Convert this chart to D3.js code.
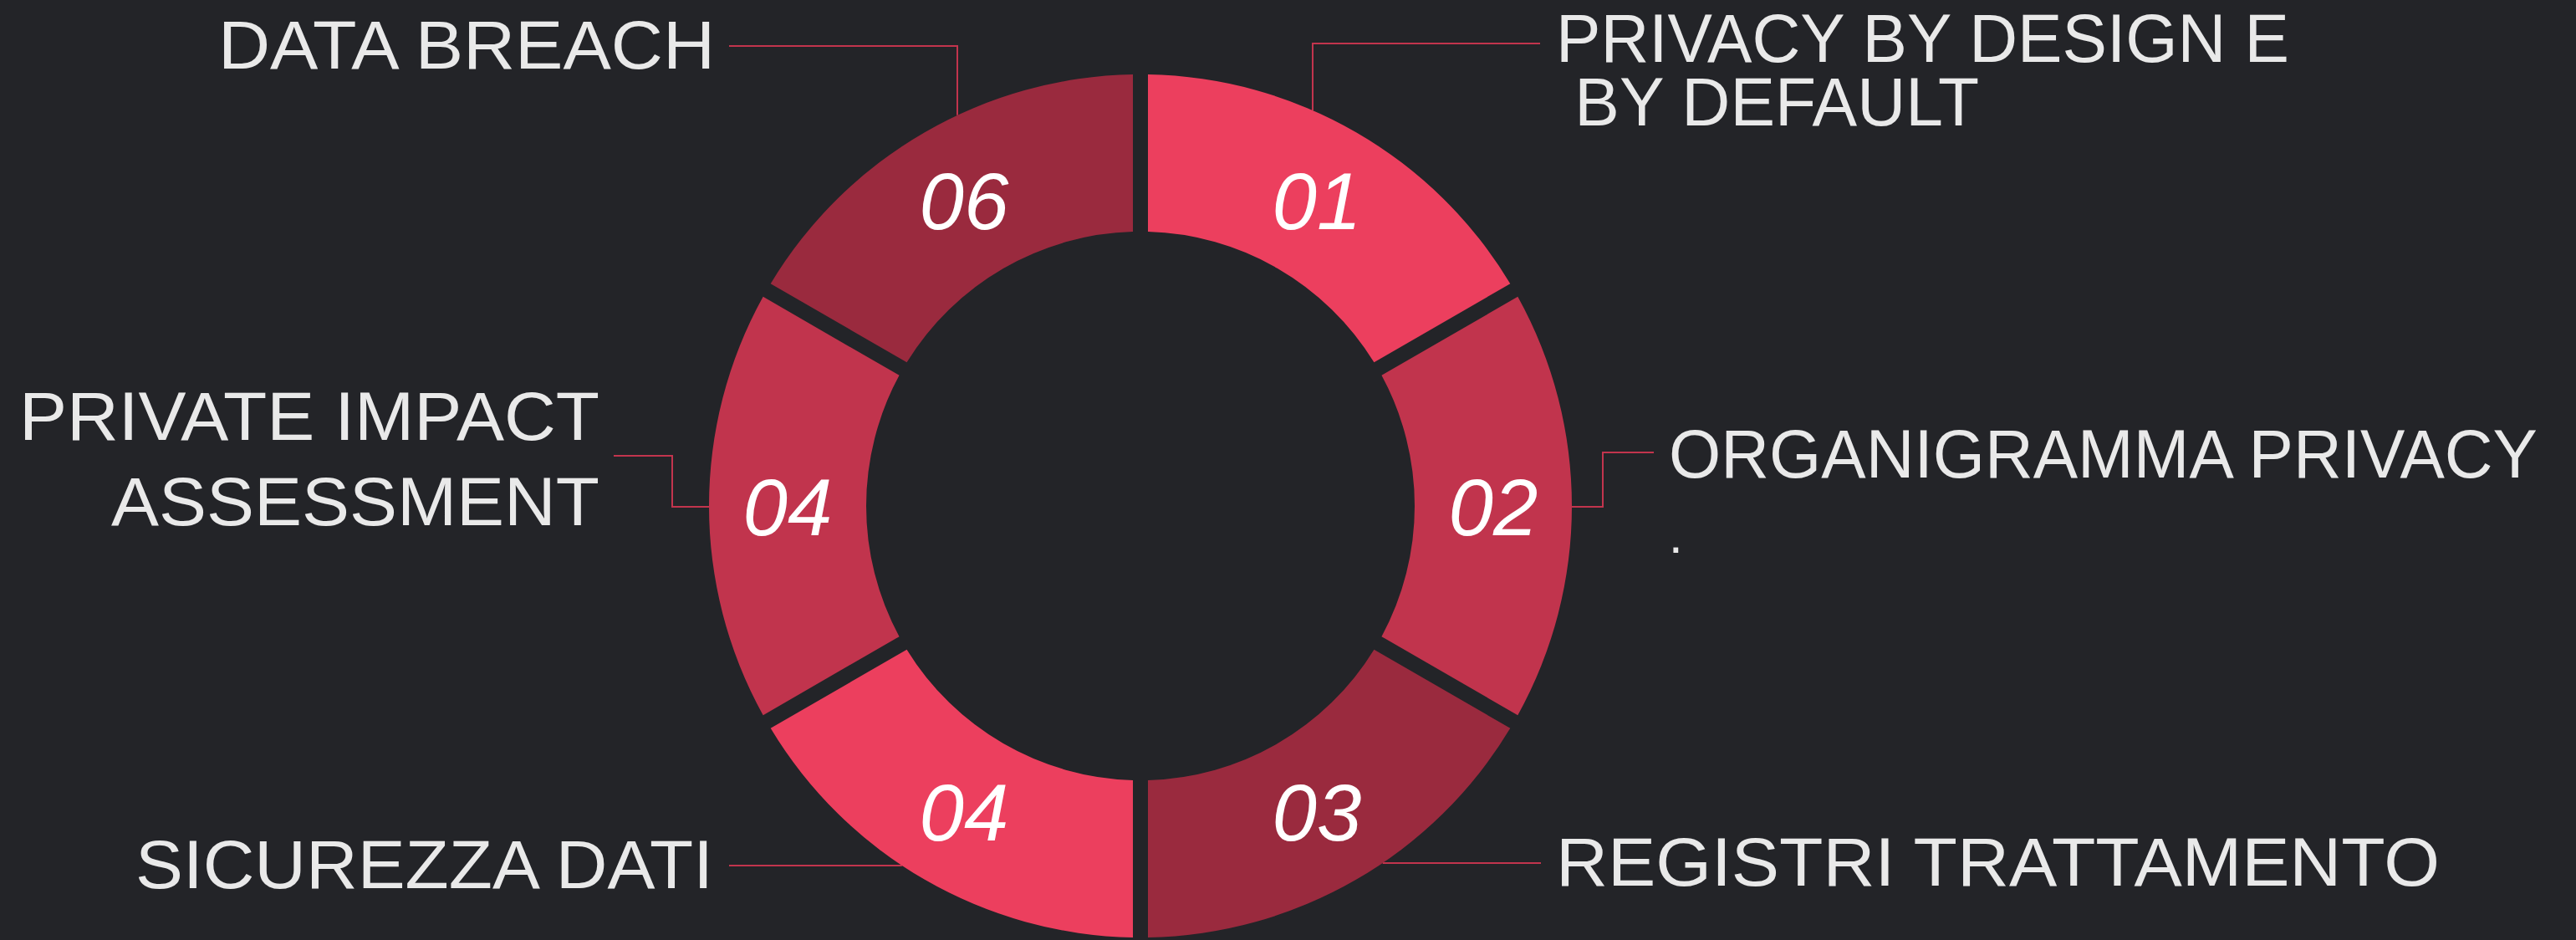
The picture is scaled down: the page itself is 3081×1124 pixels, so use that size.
<!DOCTYPE html>
<html>
<head>
<meta charset="utf-8">
<script src="https://cdn.jsdelivr.net/npm/d3@7"></script>
<style>
  body { margin: 0; background: #232428; }
  svg { display: block; }
  .label { font-family: "Liberation Sans", Arial, sans-serif; fill: #e9e9e9; font-size: 82px; }
  .num { font-family: "Liberation Sans", Arial, sans-serif; font-style: italic; fill: #ffffff; font-size: 96px; }
</style>
</head>
<body>
<div id="chart"></div>
<script>
// steps of the ring, clockwise from 12 o'clock
var steps = ["01", "02", "03", "04", "04", "06"];
var stepValues = [1, 1, 1, 1, 1, 1];
var stepTitles = [
  ["PRIVACY BY DESIGN E", " BY DEFAULT"],
  ["ORGANIGRAMMA PRIVACY"],
  ["REGISTRI TRATTAMENTO"],
  ["SICUREZZA DATI"],
  ["PRIVATE IMPACT", "ASSESSMENT"],
  ["DATA BREACH"]
];

var width = 3081, height = 1124;
var cx = 1364, cy = 605, R = 516, r = 328, gap = 18;
var shades = ["#ec3f5e", "#c1344d", "#9a2a3e"];
var lineColor = "#c2344d";

var svg = d3.select("#chart")
  .append("svg")
    .attr("width", width)
    .attr("height", height);

svg.append("rect")
  .attr("width", width)
  .attr("height", height)
  .attr("fill", "#232428");

// where a horizontal / vertical leader meets the outer rim
function edgeAtX(x, sign) { var dx = x - cx; return [x, cy + sign * Math.sqrt(R * R - dx * dx)]; }
function edgeAtY(y, sign) { var dy = y - cy; return [cx + sign * Math.sqrt(R * R - dy * dy), y]; }

// label placement for each step (same order as steps); w = rendered width of each line
var layout = [
  { x: 1861, y: 74,   anchor: "start", lead: 76,  w: [877, 506],  leader: [[1842, 52], [1570, 52], edgeAtX(1570, -1)] },
  { x: 1996, y: 571,  anchor: "start", lead: 0,   w: [1039],      leader: [edgeAtY(606, 1), [1917, 606], [1917, 541], [1978, 541]] },
  { x: 1861, y: 1059, anchor: "start", lead: 0,   w: [1057],      leader: [edgeAtY(1032, 1), [1843, 1032]] },
  { x: 853,  y: 1062, anchor: "end",   lead: 0,   w: [691],       leader: [[872, 1035], edgeAtY(1035, -1)] },
  { x: 717,  y: 526,  anchor: "end",   lead: 102, w: [694, 584],  leader: [[734, 545], [804, 545], [804, 606], edgeAtY(606, -1)] },
  { x: 855,  y: 82,   anchor: "end",   lead: 0,   w: [594],       leader: [[872, 55], [1145, 55], edgeAtX(1145, -1)] }
];

// leader lines (drawn under the ring)
svg.append("g")
  .selectAll("path")
  .data(layout)
  .enter()
  .append("path")
    .attr("d", function(d) { return d3.line()(d.leader); })
    .attr("fill", "none")
    .attr("stroke", lineColor)
    .attr("stroke-width", 2);

// ring
var pie = d3.pie().sort(null).value(function(d) { return d; });
var arcs = pie(stepValues);

var arc = d3.arc()
  .innerRadius(r)
  .outerRadius(R)
  .padRadius(R)
  .padAngle(gap / R);

var ring = svg.append("g")
  .attr("transform", "translate(" + cx + "," + cy + ")");

ring.selectAll("path")
  .data(arcs)
  .enter()
  .append("path")
    .attr("d", arc)
    .attr("fill", function(d, i) { return shades[i % 3]; });

ring.selectAll("text")
  .data(arcs)
  .enter()
  .append("text")
    .attr("class", "num")
    .attr("transform", function(d) { return "translate(" + arc.centroid(d) + ")"; })
    .attr("text-anchor", "middle")
    .attr("dy", "0.36em")
    .text(function(d, i) { return steps[i]; });

// titles, one text per line
var titles = svg.append("g")
  .selectAll("g")
  .data(stepTitles)
  .enter()
  .append("g");

titles.selectAll("text")
  .data(function(d, i) { return d.map(function(t, j) { return { t: t, l: layout[i], j: j }; }); })
  .enter()
  .append("text")
    .attr("class", "label")
    .attr("text-anchor", function(d) { return d.l.anchor; })
    .attr("x", function(d) { return d.l.x; })
    .attr("y", function(d) { return d.l.y + d.j * d.l.lead; })
    .attr("textLength", function(d) { return d.l.w[d.j]; })
    .attr("lengthAdjust", "spacingAndGlyphs")
    .style("white-space", "pre")
    .text(function(d) { return d.t; });

// stray full stop under ORGANIGRAMMA PRIVACY
svg.append("text")
  .attr("class", "label")
  .attr("x", 1996)
  .attr("y", 661)
  .style("font-size", "60px")
  .text(".");
</script>
</body>
</html>
